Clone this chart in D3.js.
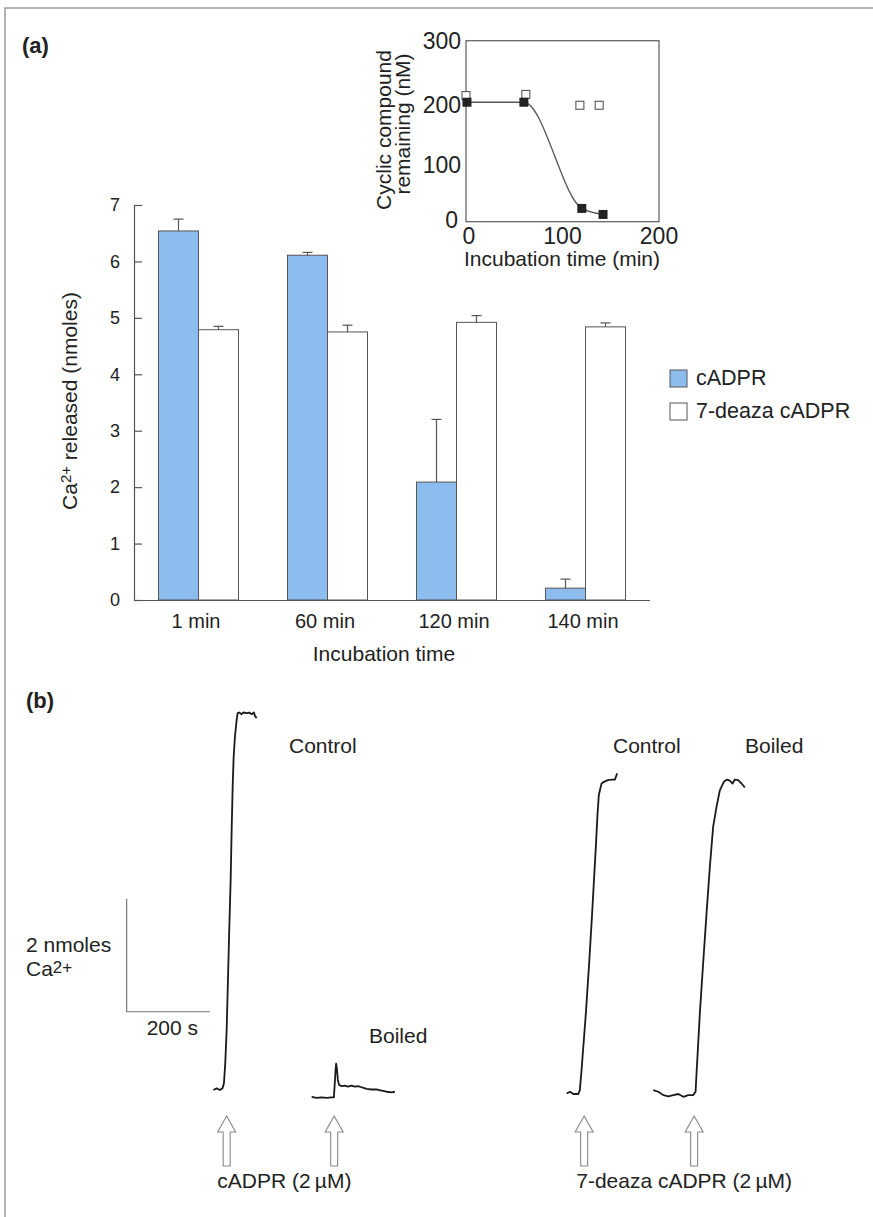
<!DOCTYPE html>
<html>
<head>
<meta charset="utf-8">
<script src="https://cdn.jsdelivr.net/npm/d3@7"></script>
<style>
    body { margin: 0; background: #fff; }
    text { font-family: "Liberation Sans", Arial, sans-serif; fill: #222; }
</style>
</head>
<body>
<svg id="fig" width="873" height="1217"></svg>
<script>
// ---- (a) bar chart data ----
const categories = ["1 min", "60 min", "120 min", "140 min"];
const seriesNames = ["cADPR", "7-deaza cADPR"];
const cadprValues = [6.54, 6.11, 2.09, 0.21];
const cadprErrors = [0.21, 0.05, 1.11, 0.16];
const deazaValues = [4.79, 4.75, 4.92, 4.84];
const deazaErrors = [0.06, 0.12, 0.12, 0.07];
const barTicks = [0, 1, 2, 3, 4, 5, 6, 7];

// ---- inset data (nM remaining vs min) ----
const insetCadprTimes = [1, 60, 120, 142];
const insetCadpr = [198, 198, 22, 12];
const insetDeazaTimes = [0, 62, 118, 138];
const insetDeaza = [209, 211, 193, 193];
const insetXTicks = [0, 100, 200];
const insetYTicks = [0, 100, 200, 300];

// ---- (b) traces: [s after addition, nmoles Ca2+] ----
const traceLabels = ["Control", "Boiled", "Control", "Boiled"];
const additionTimes = [544, 802, 1402, 1666];
const cadprControl = [[-32, 0.07], [-24, 0.10], [-16, 0.07], [-10, 0.10], [-6.5, 0.19], [-3.4, 0.54], [0, 1.14],
    [3.1, 2.02], [6.2, 2.91], [9.6, 3.80], [12, 4.69], [14.4, 5.45], [16.8, 5.99], [19.9, 6.34], [24, 6.64],
    [26.4, 6.76], [30.2, 6.77], [36, 6.74], [39.8, 6.77], [48, 6.76], [54.2, 6.77], [60, 6.74], [65.5, 6.77],
    [67.9, 6.71], [72, 6.67]];
const cadprBoiled = [[-54, -0.05], [-42, -0.07], [-30, -0.06], [-18, -0.07], [-6, -0.06], [-0.7, -0.06], [1, 0.13],
    [3.4, 0.43], [4.8, 0.54], [6.5, 0.46], [8.9, 0.25], [12, 0.16], [17.8, 0.14], [25.7, 0.15], [33.6, 0.13],
    [41.8, 0.15], [49.7, 0.13], [57.6, 0.14], [65.8, 0.12], [77.8, 0.09], [89.8, 0.08], [101.8, 0.08],
    [113.8, 0.06], [125.8, 0.04], [137.8, 0.03], [145.7, 0.04]];
const deazaControl = [[-42, 0.01], [-34, 0.04], [-26, 0.0], [-14, 0.0], [-10.3, 0.07], [-6.2, 0.43], [-0.7, 0.96],
    [4.1, 1.43], [12, 2.32], [19.2, 3.21], [28.1, 4.39], [32.2, 4.98], [35.3, 5.31], [41.8, 5.51], [47.3, 5.54],
    [56.9, 5.57], [66.5, 5.58], [73.7, 5.58], [76.8, 5.64], [79.2, 5.69]];
const deazaBoiled = [[-98, 0.07], [-86, 0.04], [-74, -0.02], [-62, -0.04], [-50, -0.02], [-38, 0.0], [-26, -0.05],
    [-14, -0.02], [-2.4, -0.02], [3.4, 0.04], [5.8, 0.37], [13.7, 1.43], [21.6, 2.32], [29.8, 3.21], [37.7, 4.03],
    [45.6, 4.74], [53.8, 5.10], [61.7, 5.39], [71.3, 5.54], [79.2, 5.58], [85.7, 5.56], [92.2, 5.51], [97.7, 5.58],
    [105.6, 5.57], [113.8, 5.51], [121.7, 5.44]];
const traces = [cadprControl, cadprBoiled, deazaControl, deazaBoiled];
const scaleBarNmoles = 2, scaleBarSeconds = 200;

const blue = "#8dbcef";
const ink = "#555";
const svg = d3.select("#fig");

// frame
svg.append("path").attr("d", "M5,1217V8H873").attr("fill", "none").attr("stroke", "#9a9a9a").attr("stroke-width", 1.5);

svg.append("text").attr("x", 22).attr("y", 53).attr("font-size", 22).attr("font-weight", "bold").text("(a)");
svg.append("text").attr("x", 26).attr("y", 708).attr("font-size", 22).attr("font-weight", "bold").text("(b)");

// ===== (a) bars =====
const x = d3.scalePoint().domain(categories).range([134, 650]).padding(0.5);
const xSub = d3.scaleBand().domain(seriesNames).range([-40, 40]);
const y = d3.scaleLinear().domain([0, 7]).range([600, 205]);

const barData = [];
categories.forEach((c, i) => {
    barData.push({cat: c, s: seriesNames[0], v: cadprValues[i], e: cadprErrors[i], fill: blue});
    barData.push({cat: c, s: seriesNames[1], v: deazaValues[i], e: deazaErrors[i], fill: "#fff"});
});

const bars = svg.append("g");
bars.selectAll("rect").data(barData).enter().append("rect")
    .attr("x", d => x(d.cat) + xSub(d.s))
    .attr("y", d => y(d.v))
    .attr("width", xSub.bandwidth())
    .attr("height", d => y(0) - y(d.v))
    .attr("fill", d => d.fill)
    .attr("stroke", ink)
    .attr("stroke-width", 1);

const errs = svg.append("g").attr("stroke", ink).attr("stroke-width", 1.2);
barData.forEach(d => {
    const cx = x(d.cat) + xSub(d.s) + xSub.bandwidth() / 2;
    errs.append("line").attr("x1", cx).attr("x2", cx).attr("y1", y(d.v)).attr("y2", y(d.v + d.e));
    errs.append("line").attr("x1", cx - 5).attr("x2", cx + 5).attr("y1", y(d.v + d.e)).attr("y2", y(d.v + d.e));
});

const yAxis = svg.append("g").attr("transform", "translate(134,0)")
    .call(d3.axisLeft(y).tickValues(barTicks).tickFormat(d3.format("d"))
        .tickSizeInner(-8).tickSizeOuter(0).tickPadding(14));
yAxis.select(".domain").attr("stroke", ink).attr("stroke-width", 1.2);
yAxis.selectAll(".tick line").attr("stroke", ink).attr("stroke-width", 1.2);
yAxis.selectAll(".tick text").attr("font-size", 18).attr("font-family", null).style("fill", "#222");

const xAxis = svg.append("g").attr("transform", "translate(0,600)")
    .call(d3.axisBottom(x).tickSize(0).tickPadding(14));
xAxis.select(".domain").attr("d", "M134,0.5H650").attr("stroke", ink).attr("stroke-width", 1.2);
xAxis.selectAll(".tick text").attr("font-size", 20).attr("font-family", null).attr("dy", "0.71em")
    .attr("transform", "translate(-3,0)").style("fill", "#222");

svg.append("text").attr("x", 384).attr("y", 661).attr("text-anchor", "middle").attr("font-size", 21).text("Incubation time");

const ylab = svg.append("text").attr("transform", "translate(77,401) rotate(-90)")
    .attr("text-anchor", "middle").attr("font-size", 21);
ylab.append("tspan").text("Ca");
ylab.append("tspan").attr("font-size", 15).attr("dy", -6).text("2+");
ylab.append("tspan").attr("dy", 6).text(" released (nmoles)");

// legend
const legend = svg.append("g").attr("transform", "translate(670,370)");
seriesNames.forEach((s, i) => {
    legend.append("rect").attr("x", 0).attr("y", i * 33).attr("width", 17).attr("height", 17)
        .attr("fill", i === 0 ? blue : "#fff").attr("stroke", ink).attr("stroke-width", 1);
    legend.append("text").attr("x", 26).attr("y", i * 33 + 15).attr("font-size", 21.5).text(s);
});

// ===== inset =====
const ix = d3.scaleLinear().domain([0, 200]).range([466, 659]);
const iy = d3.scaleLinear().domain([0, 300]).range([221.7, 40.7]);
const inset = svg.append("g");
inset.append("rect").attr("x", ix(0)).attr("y", iy(300)).attr("width", ix(200) - ix(0)).attr("height", iy(0) - iy(300))
    .attr("fill", "none").attr("stroke", "#666").attr("stroke-width", 1.3);

inset.selectAll(".xt").data(insetXTicks).enter().append("text")
    .attr("x", d => ix(d) + (d === 0 ? 3 : 0)).attr("y", 244).attr("text-anchor", "middle").attr("font-size", 23).text(d => d);
inset.selectAll(".yt").data(insetYTicks).enter().append("text")
    .attr("x", d => d === 0 ? 458 : 461).attr("y", d => iy(d) + 8 - (d === 0 ? 2 : 0) + (d === 100 || d === 200 ? 4 : 0))
    .attr("text-anchor", "end").attr("font-size", 23).text(d => d);
inset.append("text").attr("x", 562).attr("y", 266).attr("text-anchor", "middle").attr("font-size", 21)
    .text("Incubation time (min)");
inset.append("text").attr("transform", "translate(391,130) rotate(-90)").attr("text-anchor", "middle")
    .attr("font-size", 21).text("Cyclic compound");
inset.append("text").attr("transform", "translate(410,124) rotate(-90)").attr("text-anchor", "middle")
    .attr("font-size", 21).text("remaining (nM)");

const fitPts = insetCadprTimes.map((t, i) => [t, insetCadpr[i]]);
inset.append("path").datum(fitPts)
    .attr("d", d3.line().x(d => ix(d[0])).y(d => iy(d[1])).curve(d3.curveMonotoneX))
    .attr("fill", "none").attr("stroke", "#555").attr("stroke-width", 1.3);

inset.selectAll(".open").data(insetDeazaTimes.map((t, i) => [t, insetDeaza[i]])).enter().append("rect")
    .attr("x", d => ix(d[0]) - 4).attr("y", d => iy(d[1]) - 4).attr("width", 8).attr("height", 8)
    .attr("fill", "#fff").attr("stroke", "#555").attr("stroke-width", 1.1);
inset.selectAll(".filled").data(fitPts).enter().append("rect")
    .attr("x", d => ix(d[0]) - 4.5).attr("y", d => iy(d[1]) - 4.5).attr("width", 9).attr("height", 9)
    .attr("fill", "#222");

// ===== (b) traces =====
const xB = d3.scaleLinear().domain([0, 2000]).range([0, 833.3]);
const yB = d3.scaleLinear().domain([0, 7]).range([1094, 1094 - 7 * 56.35]);
const traceLine = d3.line().x(d => xB(d[0])).y(d => yB(d[1]));

traces.forEach((tr, i) => {
    svg.append("path").datum(tr.map(p => [additionTimes[i] + p[0], p[1]]))
        .attr("d", traceLine).attr("fill", "none").attr("stroke", "#1a1a1a")
        .attr("stroke-width", 1.8).attr("stroke-linejoin", "round");
});

// scale bar
const sbT = 304, sbV = 1.46;
svg.append("path")
    .attr("d", `M${xB(sbT)},${yB(sbV + scaleBarNmoles)}V${yB(sbV)}H${xB(sbT + scaleBarSeconds)}`)
    .attr("fill", "none").attr("stroke", "#777").attr("stroke-width", 1.2);
svg.append("text").attr("x", 26).attr("y", 952).attr("font-size", 21).text("2 nmoles");
const caLab = svg.append("text").attr("x", 26).attr("y", 976).attr("font-size", 21);
caLab.append("tspan").text("Ca");
caLab.append("tspan").attr("font-size", 17).attr("dy", -3).text("2+");
svg.append("text").attr("x", xB(sbT + scaleBarSeconds / 2) + 4).attr("y", 1035).attr("text-anchor", "middle")
    .attr("font-size", 21).text(scaleBarSeconds + " s");

// trace labels
const labelPos = [[289, 753], [369, 1043], [613, 753], [745, 753]];
traceLabels.forEach((t, i) => {
    svg.append("text").attr("x", labelPos[i][0]).attr("y", labelPos[i][1]).attr("font-size", 21).text(t);
});

// arrows at addition
additionTimes.forEach(t => {
    const cx = xB(t);
    const p = d3.path();
    p.moveTo(cx, 1116); p.lineTo(cx + 9, 1132); p.lineTo(cx + 3.5, 1132); p.lineTo(cx + 3.5, 1166);
    p.lineTo(cx - 3.5, 1166); p.lineTo(cx - 3.5, 1132); p.lineTo(cx - 9, 1132); p.closePath();
    svg.append("path").attr("d", p.toString()).attr("fill", "#fff").attr("stroke", "#888").attr("stroke-width", 1.1);
});

svg.append("text").attr("x", (xB(additionTimes[0]) + xB(additionTimes[1])) / 2 + 4).attr("y", 1188)
    .attr("text-anchor", "middle").attr("font-size", 21).text("cADPR (2\u2009\u00b5M)");
svg.append("text").attr("x", (xB(additionTimes[2]) + xB(additionTimes[3])) / 2 + 45).attr("y", 1188)
    .attr("text-anchor", "middle").attr("font-size", 21).text("7-deaza cADPR (2\u2009\u00b5M)");
</script>
</body>
</html>
